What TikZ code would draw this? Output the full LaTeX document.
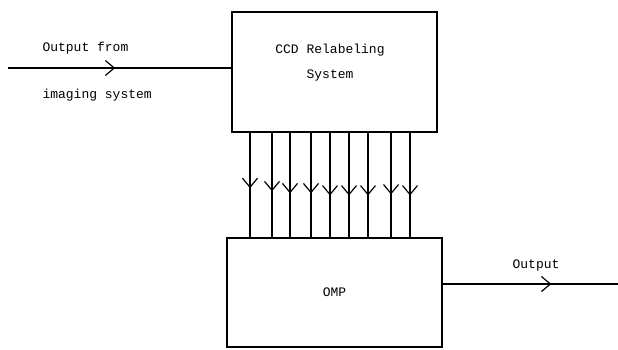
\documentclass[tikz,border=0pt]{standalone}
\usepackage{fontspec}
\setmonofont{Liberation Mono}
\usepackage{tikz}
\usetikzlibrary{positioning,arrows.meta,decorations.markings}
\tikzset{
  tty/.style={font=\ttfamily\fontsize{13}{25}\selectfont},
  block/.style={rectangle, draw, line width=1.2pt, inner sep=0pt},
  flow/.style={line width=1.2pt, postaction={decorate},
    decoration={markings, mark=at position #1 with
      {\arrow{Straight Barb[length=9pt, width=15pt, line width=1.2pt]}}}},
  flow/.default=0.5
}
\begin{document}
\begin{tikzpicture}[x=1pt, y=-1pt]
\useasboundingbox (0,0) rectangle (618,349);
% blocks
\node[block, minimum width=205, minimum height=120] (relabel) at (334.5,72) {};
\node[tty, align=center] (relabeltxt) at (330,63) {CCD Relabeling\\System};
\node[block, tty, minimum width=215, minimum height=109] (omp) at (334.5,292.5) {OMP};

% input
\coordinate (in) at (8,68);
\draw[flow=0.48] (in) -- (in -| relabel.west);
\node[tty, anchor=west] (intop) at (39,48) {Output from};
\node[tty, anchor=west] (inbot) at (39,95) {imaging system};

% parallel lines
\foreach \x/\p in {250/0.53, 272/0.56, 290/0.58, 311/0.58, 330/0.6, 349/0.6, 368/0.6, 391/0.59, 410/0.6}
  \draw[flow=\p] (\x,0 |- relabel.south) -- (\x,0 |- omp.north);

% output
\coordinate (out) at (618,284);
\draw[flow=0.62] (out -| omp.east) -- (out);
\node[tty] (outlbl) at (536,265) {Output};
\end{tikzpicture}
\end{document}
